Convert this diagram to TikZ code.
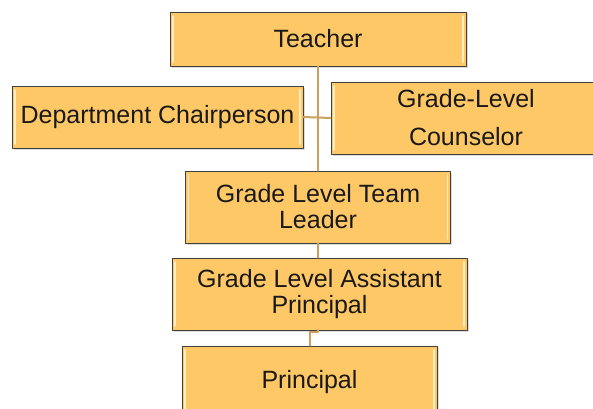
\documentclass[tikz,border=0pt]{standalone}
\usepackage{fontspec}
\setmainfont{Liberation Sans}
\usetikzlibrary{shadows}
\definecolor{boxorange}{RGB}{254,200,102}
\definecolor{boxedge}{RGB}{64,64,64}
\definecolor{linktan}{RGB}{201,161,92}
\definecolor{glint}{RGB}{255,238,196}
\definecolor{inktext}{RGB}{25,25,25}
\tikzset{
	rolebox/.style={draw=boxedge, line width=0.8pt, fill=boxorange, inner sep=0pt, align=center, text=inktext,
		drop shadow={shadow xshift=1.5pt, shadow yshift=-1.5pt, fill=gray!55},
		font=\fontsize{25}{26}\selectfont,
		path picture={\draw[glint, line width=1.6pt]
			([xshift=3pt,yshift=-4pt]path picture bounding box.north west) -- ([xshift=3pt,yshift=4pt]path picture bounding box.south west)
			([xshift=-3pt,yshift=-4pt]path picture bounding box.north east) -- ([xshift=-3pt,yshift=4pt]path picture bounding box.south east);}},
	link/.style={draw=linktan, line width=2pt}
}
\begin{document}
\begin{tikzpicture}[line cap=round,line join=round, x=1pt,y=1pt]
	\useasboundingbox (0,0) rectangle (593,408);
	\clip (0,0) rectangle (593,408);
	\node[rolebox, minimum width=296pt, minimum height=54pt] (teacher) at (318,369) {Teacher};
	\node[rolebox, minimum width=291pt, minimum height=62pt] (chair) at (157.5,291) {Department Chairperson};
	\node[rolebox, minimum width=270pt, minimum height=72pt] (counsel) at (466,290) {Grade-Level\\[12pt]Counselor};
	\node[rolebox, minimum width=265pt, minimum height=72pt] (leader) at (318,201) {Grade Level Team\\Leader};
	\node[rolebox, minimum width=295pt, minimum height=72pt] (assist) at (319.5,114) {Grade Level Assistant\\Principal};
	\node[rolebox, minimum width=255pt, minimum height=72pt] (principal) at (309.5,26) {Principal};
	\draw[link] (teacher.south) -- (leader.north);
	\draw[link] (chair.east) -- (counsel.west);
	\draw[link] (leader.south) -- (leader.south |- assist.north);
	\draw[link] (assist.south) ++(-1.5,0) -- ++(0,-2) -| (principal.north);
\end{tikzpicture}
\end{document}
